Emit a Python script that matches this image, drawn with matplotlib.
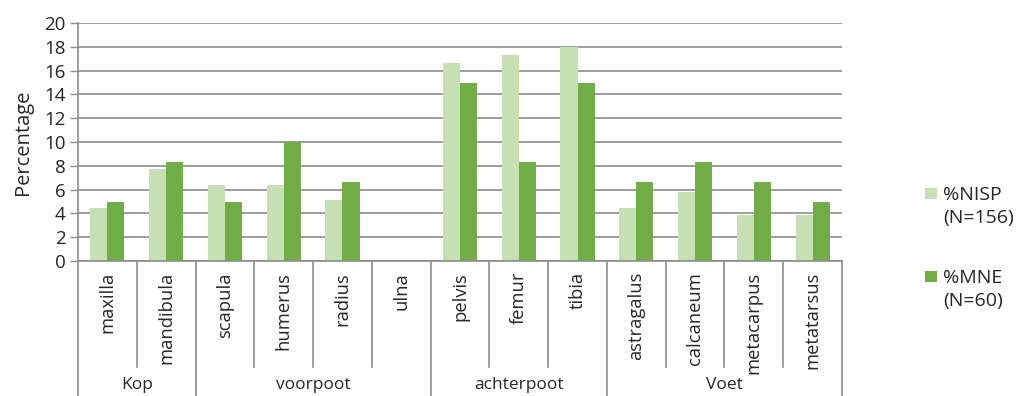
import matplotlib
matplotlib.use("Agg")
import matplotlib.pyplot as plt
from matplotlib.patches import Rectangle
import matplotlib.transforms as mtransforms
import numpy as np

categories = ["maxilla", "mandibula", "scapula", "humerus", "radius", "ulna",
              "pelvis", "femur", "tibia", "astragalus", "calcaneum", "metacarpus", "metatarsus"]
groups = ["Kop", "voorpoot", "achterpoot", "Voet"]
group_sizes = [2, 4, 3, 4]
nisp = [4.49, 7.69, 6.41, 6.41, 5.13, 0, 16.67, 17.31, 17.95, 4.49, 5.77, 3.85, 3.85]
mne = [5.0, 8.33, 5.0, 10.0, 6.67, 0, 15.0, 8.33, 15.0, 6.67, 8.33, 6.67, 5.0]
series_names = ["%NISP", "%MNE"]
series_n = ["(N=156)", "(N=60)"]
yticks = list(range(0, 21, 2))

plt.rcParams['font.family'] = ['Open Sans', 'DejaVu Sans']
txt = '#262626'
grid_c = '#8c8c8c'
light = '#c6e0b4'
dark = '#70ad47'

W, H = 1016, 396
fig = plt.figure(figsize=(W / 100, H / 100), dpi=100)
left, right, top, bottom = 78, 842, 23, 261
ax = fig.add_axes([left / W, 1 - bottom / H, (right - left) / W, (bottom - top) / H])

x = np.arange(len(categories))
bw = 0.29
ax.bar(x - bw / 2, nisp, bw, color=light, zorder=3)
ax.bar(x + bw / 2, mne, bw, color=dark, zorder=3)

ax.set_xlim(-0.5, len(categories) - 0.5)
ax.set_ylim(0, 20)
ax.set_yticks(yticks)
ax.yaxis.grid(True, color=grid_c, linewidth=1.2, zorder=0)
ax.tick_params(axis='y', length=6, width=1.0, color=grid_c, labelsize=13.5, labelcolor=txt, pad=3)
ax.set_xticks([])
for s in ['top', 'right', 'bottom']:
    ax.spines[s].set_visible(False)
ax.spines['left'].set_color(grid_c)
ax.spines['left'].set_linewidth(1.2)

fig.text(23 / W, 1 - 142.5 / H, "Percentage", rotation=90, ha='center', va='center',
         fontsize=14.5, color=txt)

trans = mtransforms.blended_transform_factory(ax.transData, ax.transAxes)
axh = (bottom - top)
def yfrac(py):
    return (bottom - py) / axh

# x-axis line
ax.plot([-0.5, len(categories) - 0.5], [0, 0], transform=trans, color=grid_c, lw=1.2, clip_on=False, zorder=4)

# separators
boundaries = np.cumsum([0] + group_sizes) - 0.5
for b in np.arange(-0.5, len(categories), 1.0):
    if any(abs(b - gb) < 1e-6 for gb in boundaries):
        y2 = yfrac(400)
    else:
        y2 = yfrac(367)
    ax.plot([b, b], [0, y2], transform=trans, color=grid_c, lw=1.2, clip_on=False)

for i, c in enumerate(categories):
    ax.text(i, yfrac(272), c, transform=trans, rotation=90, ha='center', va='top',
            fontsize=13.2, color=txt)

for gi, g in enumerate(groups):
    cx = (boundaries[gi] + boundaries[gi + 1]) / 2
    ax.text(cx, yfrac(393), g, transform=trans, ha='center', va='bottom', fontsize=12.5, color=txt)

# legend
for name, nlab, col, sq_top, base in [(series_names[0], series_n[0], light, 188, 200),
                                      (series_names[1], series_n[1], dark, 271, 283)]:
    fig.patches.append(Rectangle((925 / W, 1 - (sq_top + 11) / H), 12 / W, 11 / H,
                                 transform=fig.transFigure, facecolor=col, edgecolor='none'))
    fig.text(943 / W, 1 - base / H, name, ha='left', va='baseline', fontsize=14, color=txt)
    fig.text(943 / W, 1 - (base + 23) / H, nlab, ha='left', va='baseline', fontsize=14, color=txt)

fig.savefig("out.png", dpi=100)
